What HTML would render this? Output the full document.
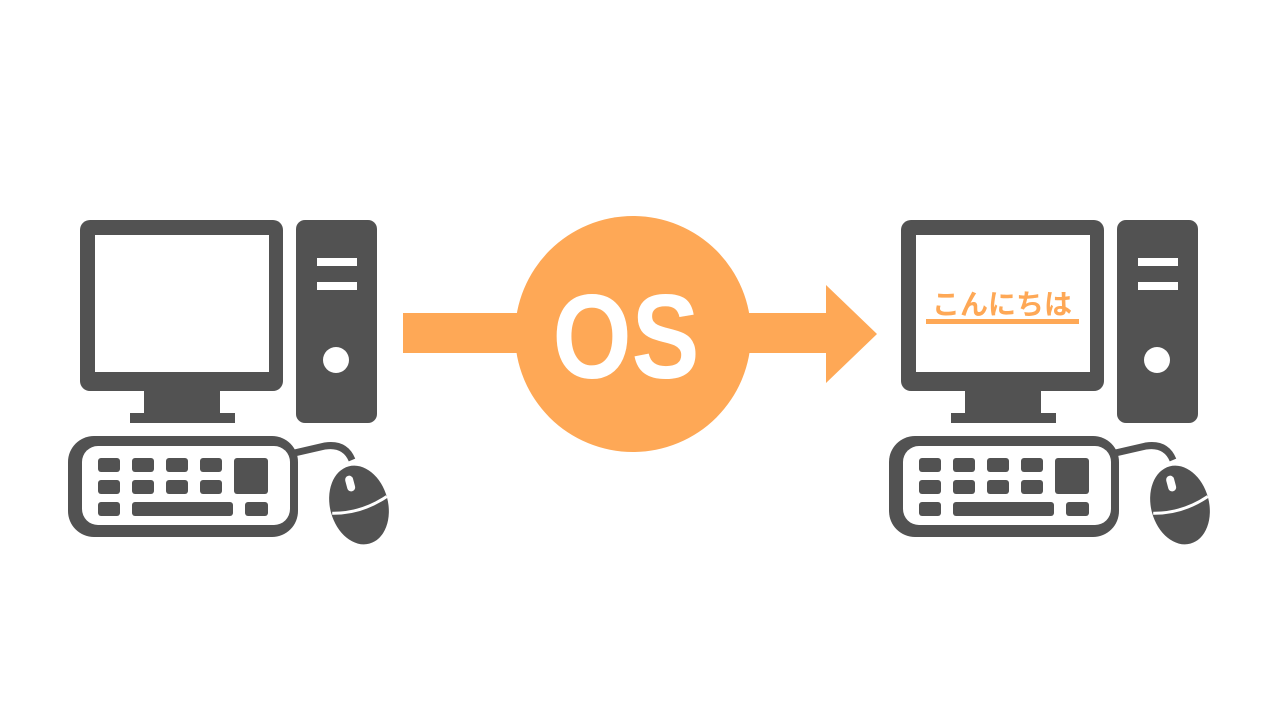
<!DOCTYPE html>
<html><head><meta charset="utf-8"><style>html,body{margin:0;padding:0;background:#fff}</style></head>
<body>
<svg width="1280" height="720" viewBox="0 0 1280 720" xmlns="http://www.w3.org/2000/svg">
<defs>
<g id="pc" fill="#525252">
  <rect x="80" y="220" width="203" height="171" rx="10"/>
  <rect x="95" y="235" width="174" height="137" fill="#fff"/>
  <rect x="144" y="390" width="76" height="24"/>
  <rect x="130" y="413" width="105" height="10"/>
  <rect x="296" y="220" width="81" height="203" rx="9"/>
  <rect x="317" y="258" width="40" height="8" fill="#fff"/>
  <rect x="317" y="282" width="40" height="8" fill="#fff"/>
  <circle cx="336" cy="360" r="13" fill="#fff"/>
  <path d="M290 454 L325 446 Q345 443 352 460" fill="none" stroke="#525252" stroke-width="7"/>
  <rect x="68" y="436" width="230" height="101" rx="26"/>
  <rect x="82" y="446" width="208" height="79" rx="16" fill="#fff"/>
  <rect x="98" y="458" width="22" height="14" rx="3"/><rect x="132" y="458" width="22" height="14" rx="3"/>
  <rect x="166" y="458" width="22" height="14" rx="3"/><rect x="200" y="458" width="22" height="14" rx="3"/>
  <rect x="98" y="480" width="22" height="14" rx="3"/><rect x="132" y="480" width="22" height="14" rx="3"/>
  <rect x="166" y="480" width="22" height="14" rx="3"/><rect x="200" y="480" width="22" height="14" rx="3"/>
  <rect x="234" y="458" width="34" height="36" rx="3"/>
  <rect x="98" y="502" width="22" height="14" rx="3"/><rect x="132" y="502" width="101" height="14" rx="3"/>
  <rect x="245" y="502" width="23" height="14" rx="3"/>
  <g transform="rotate(-15 359 505)">
    <ellipse cx="359" cy="505" rx="29" ry="40"/>
    <rect x="352" y="474" width="8" height="16" rx="4" fill="#fff"/>
    <path d="M331 506 Q359 514 388 504" fill="none" stroke="#fff" stroke-width="3"/>
  </g>
</g>
</defs>
<use href="#pc"/>
<use href="#pc" transform="translate(821 0)"/>
<rect x="403" y="313" width="427" height="40" fill="#fea856"/>
<polygon points="826,285 877,334 826,383" fill="#fea856"/>
<circle cx="633" cy="334" r="118" fill="#fea856"/>
<text x="626" y="378" text-anchor="middle" font-family="Liberation Sans, sans-serif" font-weight="bold" font-size="120" fill="#fff" textLength="147" lengthAdjust="spacingAndGlyphs">OS</text>
<text x="1002" y="314" text-anchor="middle" font-family="Liberation Sans, Noto Sans CJK JP, sans-serif" font-weight="bold" font-size="28" fill="#fea856" textLength="140" lengthAdjust="spacingAndGlyphs">こんにちは</text>
<rect x="926" y="319" width="153" height="5" fill="#fea856"/>
</svg>
</body></html>
